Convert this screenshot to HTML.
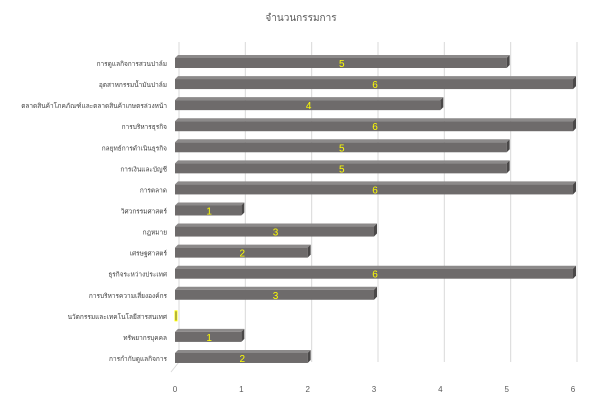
<!DOCTYPE html>
<html><head><meta charset="utf-8"><style>
body{margin:0;background:#fff;font-family:"Liberation Sans","Noto Sans CJK SC",sans-serif}
</style></head><body>
<svg width="602" height="412" xmlns="http://www.w3.org/2000/svg" font-family="Liberation Sans, Noto Sans CJK SC, sans-serif">
<rect width="602" height="412" fill="#fff"/>
<text x="301" y="21" text-anchor="middle" font-size="10" fill="#595959">จำนวนกรรมการ</text>
<g id="grid"></g><g id="bars"></g><g id="labels"></g>
</svg>
<script>
const categories=["การดูแลกิจการสวนปาล์ม","อุตสาหกรรมน้ำมันปาล์ม","ตลาดสินค้าโภคภัณฑ์และตลาดสินค้าเกษตรล่วงหน้า","การบริหารธุรกิจ","กลยุทธ์การดำเนินธุรกิจ","การเงินและบัญชี","การตลาด","วิศวกรรมศาสตร์","กฎหมาย","เศรษฐศาสตร์","ธุรกิจระหว่างประเทศ","การบริหารความเสี่ยงองค์กร","นวัตกรรมและเทคโนโลยีสารสนเทศ","ทรัพยากรบุคคล","การกำกับดูแลกิจการ"];
const values=[5,6,4,6,5,5,6,1,3,2,6,3,0,1,2];
const ticks=[0,1,2,3,4,5,6];
const NS="http://www.w3.org/2000/svg";
const x0=175,x1=573,xmax=6,yTop=53,step=21.07;
const xs=v=>x0+(x1-x0)*v/xmax;
const yc=i=>yTop+step*i+10;
function mk(t,a,p){const e=document.createElementNS(NS,t);for(const k in a)e.setAttribute(k,a[k]);p.appendChild(e);return e;}
const grid=document.getElementById('grid'),bars=document.getElementById('bars'),labels=document.getElementById('labels');
ticks.forEach(t=>{
 const l=mk('line',{x1:xs(t)+4,y1:42,x2:xs(t)+4,y2:362,stroke:'#d9d9d9','stroke-width':1},grid);
 
 
 const tx=mk('text',{x:xs(t),y:392,'text-anchor':'middle','font-size':8,fill:'#595959'},labels);
 tx.textContent=t;
 
 
});
mk('line',{x1:x0+4,y1:362,x2:x0-4,y2:372,stroke:'#d9d9d9'},grid);
mk('line',{x1:x0+4,y1:42,x2:x0+4,y2:362,stroke:'#d9d9d9'},grid);
categories.forEach((c,i)=>{
 const y=yc(i),v=values[i],w=xs(v)-x0;
 const g=mk('g',{},bars);
 
 
 if(v>0){
  mk('polygon',{points:`${x0},${y-5} ${x0+3},${y-8} ${x0+w+3},${y-8} ${x0+w},${y-5}`,fill:'#8c8a8a'},g);
  mk('polygon',{points:`${x0+w},${y-5} ${x0+w+3},${y-8} ${x0+w+3},${y+2} ${x0+w},${y+5}`,fill:'#4a4848'},g);
  mk('rect',{x:x0,y:y-5,width:w,height:10,fill:'#6e6b6b'},g);
 } else {
  mk('rect',{x:x0,y:y-5,width:2,height:10,fill:'#6e6b6b',stroke:'#ffff00','stroke-width':1},g);
 }
 const vl=mk('text',{x:x0+w/2+1,y:y+4,'text-anchor':'middle','font-size':10,fill:'#ffff00'},labels);
 vl.textContent=v>0?v:'';
 
 
 const cl=mk('text',{x:x0-8,y:y+3,'text-anchor':'end','font-size':6.5,fill:'#404040'},labels);
 cl.textContent=c;
 
 
});
</script>
</body></html>
